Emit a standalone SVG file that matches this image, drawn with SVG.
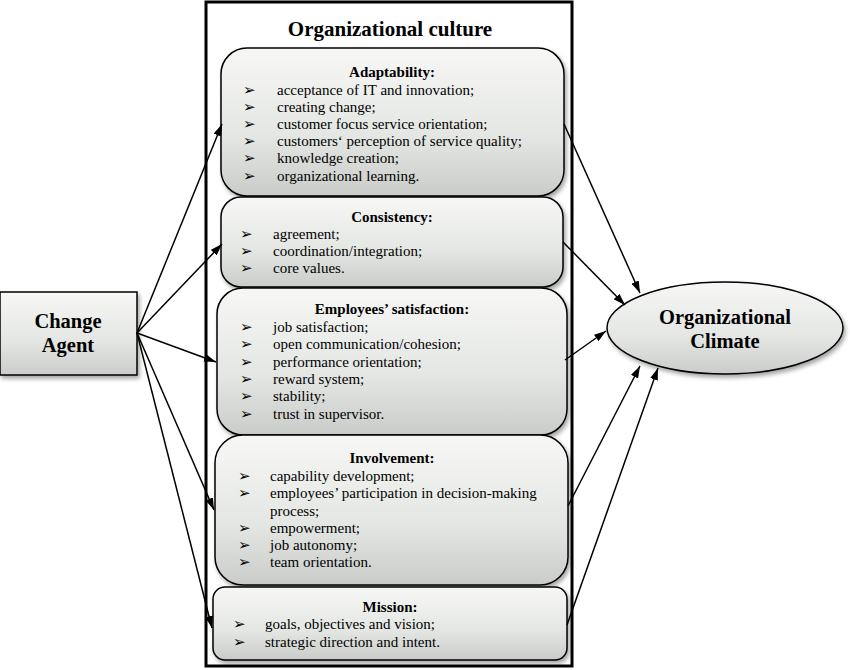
<svg xmlns="http://www.w3.org/2000/svg" width="850" height="670" viewBox="0 0 850 670">
<defs>
<linearGradient id="g" x1="0" y1="0" x2="0" y2="1">
<stop offset="0" stop-color="#f7f8f6"/>
<stop offset="0.6" stop-color="#e4e6e3"/>
<stop offset="1" stop-color="#c9ccc9"/>
</linearGradient>
<filter id="sh" x="-5%" y="-5%" width="112%" height="115%">
<feDropShadow dx="2" dy="3" stdDeviation="2" flood-color="#000" flood-opacity="0.35"/>
</filter>
<marker id="ah" viewBox="0 0 12 8" refX="12" refY="4" markerWidth="12" markerHeight="8" markerUnits="userSpaceOnUse" orient="auto">
<path d="M0,0 L12,4 L0,8 Z" fill="#000"/>
</marker>
<style>
.box{fill:url(#g);stroke:#000;stroke-width:1.5;filter:url(#sh)}
.t{font-family:"Liberation Serif","Times New Roman",serif;font-size:15px;fill:#000}
.h{font-family:"Liberation Serif","Times New Roman",serif;font-size:15px;font-weight:bold;fill:#000;text-anchor:middle}
.big{font-family:"Liberation Serif","Times New Roman",serif;font-size:20.5px;font-weight:bold;fill:#000;text-anchor:middle}
.c line{stroke:#000;stroke-width:1.5;marker-end:url(#ah)}
</style>
</defs>
<rect width="850" height="670" fill="#fff"/>
<g id="culture">
<rect x="206" y="2" width="366" height="664" fill="#fff" stroke="#000" stroke-width="3"/>
<text x="390" y="36" class="big" style="font-size:21px">Organizational culture</text>
</g>
<g id="adaptability">
<rect x="221" y="48" width="343" height="148" rx="26" class="box"/>
<text x="392" y="77" class="h">Adaptability:</text>
<g class="t">
<text x="243" y="95">➢</text><text x="277" y="95">acceptance of IT and innovation;</text>
<text x="243" y="112">➢</text><text x="277" y="112">creating change;</text>
<text x="243" y="129">➢</text><text x="277" y="129">customer focus service orientation;</text>
<text x="243" y="146">➢</text><text x="277" y="146">customers‘ perception of service quality;</text>
<text x="243" y="163">➢</text><text x="277" y="163">knowledge creation;</text>
<text x="243" y="181">➢</text><text x="277" y="181">organizational learning.</text>
</g>
</g>
<g id="consistency">
<rect x="221" y="197" width="342" height="90" rx="20" class="box"/>
<text x="392" y="222" class="h">Consistency:</text>
<g class="t">
<text x="240" y="239">➢</text><text x="273" y="239">agreement;</text>
<text x="240" y="256">➢</text><text x="273" y="256">coordination/integration;</text>
<text x="240" y="273">➢</text><text x="273" y="273">core values.</text>
</g>
</g>
<g id="satisfaction">
<rect x="217" y="288" width="350" height="147" rx="26" class="box"/>
<text x="392" y="314" class="h">Employees’ satisfaction:</text>
<g class="t">
<text x="240" y="332">➢</text><text x="273" y="332">job satisfaction;</text>
<text x="240" y="349">➢</text><text x="273" y="349">open communication/cohesion;</text>
<text x="240" y="367">➢</text><text x="273" y="367">performance orientation;</text>
<text x="240" y="384">➢</text><text x="273" y="384">reward system;</text>
<text x="240" y="401">➢</text><text x="273" y="401">stability;</text>
<text x="240" y="419">➢</text><text x="273" y="419">trust in supervisor.</text>
</g>
</g>
<g id="involvement">
<rect x="215" y="435" width="353" height="150" rx="28" class="box"/>
<text x="392" y="463" class="h">Involvement:</text>
<g class="t">
<text x="238" y="481">➢</text><text x="270" y="481">capability development;</text>
<text x="238" y="498">➢</text><text x="270" y="498">employees’ participation in decision-making</text>
<text x="270" y="516">process;</text>
<text x="238" y="533">➢</text><text x="270" y="533">empowerment;</text>
<text x="238" y="550">➢</text><text x="270" y="550">job autonomy;</text>
<text x="238" y="567">➢</text><text x="270" y="567">team orientation.</text>
</g>
</g>
<g id="mission">
<rect x="213" y="587" width="354" height="73" rx="12" class="box"/>
<text x="390" y="612" class="h">Mission:</text>
<g class="t">
<text x="233" y="629">➢</text><text x="265" y="629">goals, objectives and vision;</text>
<text x="233" y="647">➢</text><text x="265" y="647">strategic direction and intent.</text>
</g>
</g>
<g id="change-agent">
<rect x="0" y="292" width="137" height="83" class="box"/>
<text x="68" y="328" class="big">Change</text>
<text x="68" y="352" class="big">Agent</text>
</g>
<g id="climate">
<ellipse cx="725" cy="328" rx="118" ry="46" class="box"/>
<text x="725" y="324" class="big">Organizational</text>
<text x="725" y="348" class="big">Climate</text>
</g>
<g id="connectors" class="c">
<line x1="137" y1="333" x2="222" y2="124"/>
<line x1="137" y1="333" x2="222" y2="244"/>
<line x1="137" y1="333" x2="216" y2="362"/>
<line x1="137" y1="333" x2="214" y2="510"/>
<line x1="137" y1="333" x2="212" y2="628"/>
<line x1="564" y1="124" x2="640" y2="293"/>
<line x1="563" y1="242" x2="625" y2="305"/>
<line x1="565" y1="360" x2="606" y2="331"/>
<line x1="568" y1="506" x2="640" y2="366"/>
<line x1="567" y1="625" x2="658" y2="368"/>
</g>
</svg>
